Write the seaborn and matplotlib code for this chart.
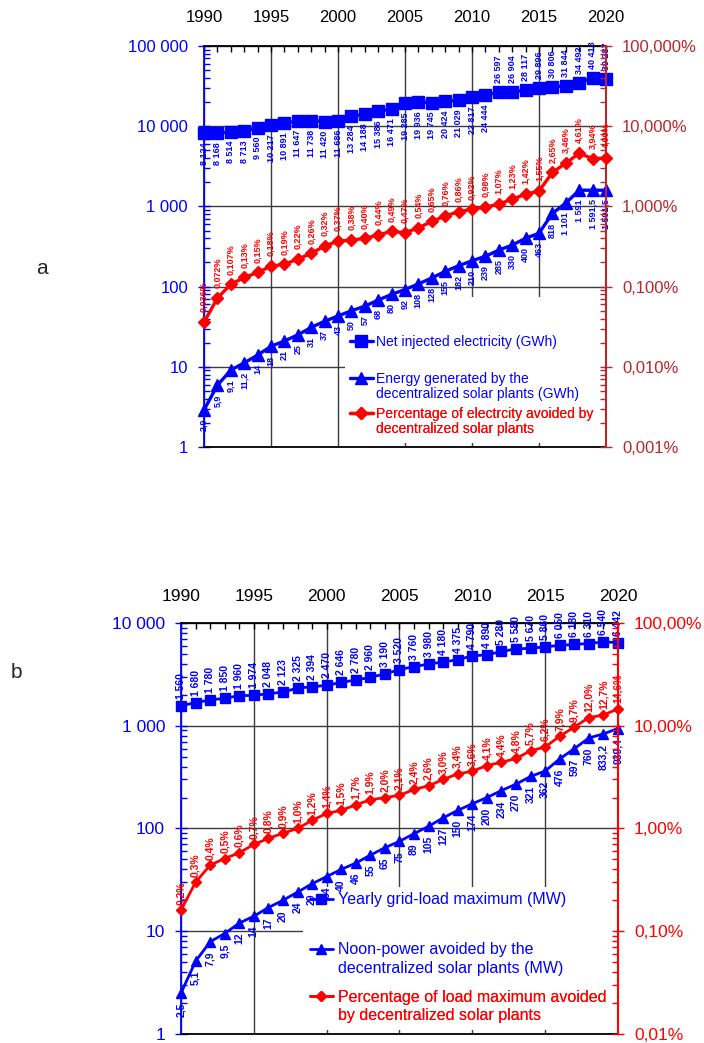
import numpy as np
import matplotlib
matplotlib.use('Agg')
import matplotlib.pyplot as plt
import seaborn as sns
from matplotlib.lines import Line2D
from matplotlib.patches import Rectangle
from matplotlib.ticker import LogLocator, MultipleLocator, FuncFormatter, NullFormatter

sns.set_style('ticks')
plt.rcParams['font.family'] = ['Liberation Sans', 'DejaVu Sans']

years = list(range(1990, 2021))

# panneau a : électricité (GWh)
injected_gwh = [8124, 8168, 8514, 8713, 9560, 10217, 10891, 11647, 11738, 11420, 11686,
                13284, 14188, 15386, 16471, 19285, 19936, 19745, 20424, 21029, 22817,
                24444, 26597, 26904, 28117, 29896, 30806, 31844, 34492, 40413, 39287]
solar_gwh = [2.9, 5.9, 9.1, 11.2, 14, 18, 21, 25, 31, 37, 43, 50, 57, 68, 80, 92, 108,
             128, 155, 182, 210, 239, 285, 330, 400, 463, 818, 1101, 1591, 1591.5, 1591.5]
avoided_pct_a = [0.036, 0.072, 0.107, 0.13, 0.15, 0.18, 0.19, 0.22, 0.26, 0.32, 0.37,
                 0.38, 0.40, 0.44, 0.49, 0.47, 0.54, 0.65, 0.76, 0.86, 0.92, 0.98, 1.07,
                 1.23, 1.42, 1.55, 2.65, 3.46, 4.61, 3.94, 4.00]

# panneau b : puissance (MW)
gridload_mw = [1560, 1680, 1780, 1850, 1960, 1974, 2048, 2123, 2325, 2394, 2470, 2646,
               2780, 2960, 3190, 3520, 3760, 3980, 4180, 4375, 4790, 4890, 5280, 5580,
               5670, 5860, 6050, 6180, 6310, 6540, 6442]
noon_mw = [2.5, 5.1, 7.9, 9.5, 12, 14, 17, 20, 24, 29, 34, 40, 46, 55, 65, 75, 89, 105,
           127, 150, 174, 200, 234, 270, 321, 362, 476, 597, 760, 833.2, 939.4]
avoided_pct_b = [0.16, 0.30, 0.44, 0.51, 0.58, 0.70, 0.80, 0.90, 1.0, 1.2, 1.4, 1.5, 1.7,
                 1.9, 2.0, 2.1, 2.4, 2.6, 3.0, 3.4, 3.6, 4.1, 4.4, 4.8, 5.7, 6.2, 7.9,
                 9.7, 12.0, 12.7, 14.6]

BLUE = '#0000ff'
RED = '#ff0000'


def fmt_num(v):
    if float(v).is_integer():
        return f"{int(v):,}".replace(',', ' ')
    return f"{v:,.1f}".replace(',', ' ').replace('.', ',')


def fmt_pct_a(v):
    d = 3 if v < 0.12 else 2
    return f"{v:.{d}f}%".replace('.', ',')


def fmt_pct_b(v):
    return f"{v:.1f}%".replace('.', ',')


def draw_series(ax, y, color, marker, ms, lw):
    sns.lineplot(x=years, y=y, ax=ax, color=color, marker=marker, markersize=ms,
                 markeredgecolor=color, markerfacecolor=color, markeredgewidth=1,
                 linewidth=lw, clip_on=False, zorder=3, legend=False)
    return ax.lines[-1]


def add_labels(ax, y, texts, color, fs, offsets):
    for x, v, t, off in zip(years, y, texts, offsets):
        ax.annotate(t, (x, v), xytext=(0, off), textcoords='offset points',
                    rotation=90, ha='center', va='bottom' if off > 0 else 'top',
                    fontsize=fs, fontweight='bold', color=color, zorder=4,
                    annotation_clip=False)


def add_legend(ax, handle, lines, color, x, y, fs, hl, tp, ls):
    handles = [handle] + [Line2D([], [], linestyle='none')] * (len(lines) - 1)
    leg = ax.legend(handles, lines, loc='center left', bbox_to_anchor=(x, y),
                    frameon=False, fontsize=fs, handlelength=hl, handletextpad=tp,
                    labelspacing=ls, borderpad=0, borderaxespad=0)
    for t in leg.get_texts():
        t.set_color(color)
    ax.add_artist(leg)


def setup_axes(ax, ax2, ymax, pct_min, pct_fmt, fs, right_color, xpad):
    ax.set_xlim(1990, 2020)
    ax.set_yscale('log')
    ax.set_ylim(1, ymax)
    ax2.set_yscale('log')
    ax2.set_ylim(pct_min, pct_min * ymax)
    ax.set_axisbelow(True)

    ax.xaxis.set_major_locator(MultipleLocator(5))
    ax.xaxis.set_minor_locator(MultipleLocator(1))
    ax.tick_params(axis='x', which='both', top=True, bottom=False, labeltop=True,
                   labelbottom=False, direction='in', colors='black', labelsize=fs,
                   pad=xpad, length=4, width=1)

    for a, c in ((ax, BLUE), (ax2, right_color)):
        a.yaxis.set_major_locator(LogLocator(base=10, numticks=20))
        a.yaxis.set_minor_locator(LogLocator(base=10, subs=np.arange(2, 10), numticks=20))
        a.yaxis.set_minor_formatter(NullFormatter())
        a.tick_params(axis='y', which='major', direction='inout', length=9, width=1,
                      color=c, labelcolor=c, labelsize=fs, pad=7)
        a.tick_params(axis='y', which='minor', direction='in', length=4, width=1, color=c)
    ax.yaxis.set_major_formatter(FuncFormatter(lambda v, p: fmt_num(round(v))))
    ax2.yaxis.set_major_formatter(FuncFormatter(lambda v, p: pct_fmt(v)))

    ax.grid(True, which='major', axis='both', color='#3c3c3c', linewidth=1)
    ax2.grid(False)
    ax.spines['left'].set_color(BLUE)
    ax.spines['right'].set_visible(False)
    for s in ('top', 'bottom'):
        ax.spines[s].set_color('black')
    for s in ('left', 'top', 'bottom'):
        ax2.spines[s].set_visible(False)
    ax2.spines['right'].set_color(right_color)
    for s in ax.spines.values():
        s.set_linewidth(1.3)
    ax2.spines['right'].set_linewidth(1.5)
    ax.set_xlabel('')
    ax.set_ylabel('')
    ax2.set_ylabel('')


fig = plt.figure(figsize=(7.04, 10.43), dpi=100)

# ---- a ----
ax_a = fig.add_axes([0.2898, 0.5714, 0.5710, 0.3845])
ax_a2 = ax_a.twinx()
h_inj = draw_series(ax_a, injected_gwh, BLUE, 's', 8.5, 2.4)
h_sol = draw_series(ax_a, solar_gwh, BLUE, '^', 9, 2.4)
h_pa = draw_series(ax_a2, avoided_pct_a, RED, 'D', 6.5, 2.4)
setup_axes(ax_a, ax_a2, 1e5, 0.001, lambda v: f"{v:.3f}%".replace('.', ','), 12,
           '#b8282a', 15)
ax_a.add_patch(Rectangle((0.351, 0.01), 0.645, 0.364, transform=ax_a.transAxes,
                         facecolor='white', edgecolor='none', zorder=2))
add_labels(ax_a, injected_gwh, [fmt_num(v) for v in injected_gwh], BLUE, 6.5,
           [-6.5 if i < 22 else 6.5 for i in range(len(years))])
add_labels(ax_a, solar_gwh, [fmt_num(v) for v in solar_gwh], BLUE, 6.5,
           [-6.5] * len(years))
add_labels(ax_a2, avoided_pct_a, [fmt_pct_a(v) for v in avoided_pct_a], RED, 6.5,
           [7] * len(years))
add_legend(ax_a2, h_inj, ['Net injected electricity (GWh)'], BLUE, 0.363, 0.262,
           10, 1.65, 0.2, 0.06)
add_legend(ax_a2, h_sol, ['Energy generated by the', 'decentralized solar plants (GWh)'],
           BLUE, 0.363, 0.151, 10, 1.65, 0.2, 0.06)
add_legend(ax_a2, h_pa, ['Percentage of electrcity avoided by', 'decentralized solar plants'],
           RED, 0.363, 0.0636, 10, 1.65, 0.2, 0.06)

# ---- b ----
ax_b = fig.add_axes([0.2571, 0.00863, 0.6207, 0.3941])
ax_b2 = ax_b.twinx()
h_grid = draw_series(ax_b, gridload_mw, BLUE, 's', 6.5, 2)
h_noon = draw_series(ax_b, noon_mw, BLUE, '^', 7, 2)
h_pb = draw_series(ax_b2, avoided_pct_b, RED, 'D', 5, 2)
setup_axes(ax_b, ax_b2, 1e4, 0.01, lambda v: f"{v:.2f}%".replace('.', ','), 12.5,
           RED, 14)
ax_b.add_patch(Rectangle((0.279, 0.01), 0.716, 0.348, transform=ax_b.transAxes,
                         facecolor='white', edgecolor='none', zorder=2))
add_labels(ax_b, gridload_mw, [fmt_num(v) for v in gridload_mw], BLUE, 7.5,
           [5] * len(years))
add_labels(ax_b, noon_mw, [fmt_num(v) for v in noon_mw], BLUE, 7.5, [-7] * len(years))
add_labels(ax_b2, avoided_pct_b, [fmt_pct_b(v) for v in avoided_pct_b], RED, 7.5,
           [4] * len(years))
add_legend(ax_b2, h_grid, ['Yearly grid-load maximum (MW)'], BLUE, 0.295, 0.326,
           11.5, 1.45, 0.3, 0.2)
add_legend(ax_b2, h_noon, ['Noon-power avoided by the', 'decentralized solar plants (MW)'],
           BLUE, 0.295, 0.1825, 11.5, 1.45, 0.3, 0.2)
add_legend(ax_b2, h_pb, ['Percentage of load maximum avoided', 'by decentralized solar plants'],
           RED, 0.295, 0.0669, 11.5, 1.45, 0.3, 0.2)

fig.text(42 / 704, 1 - 268 / 1043, 'a', fontsize=15, ha='center', va='center')
fig.text(16 / 704, 1 - 672 / 1043, 'b', fontsize=15, ha='center', va='center')

fig.savefig('out.png', dpi=100)
